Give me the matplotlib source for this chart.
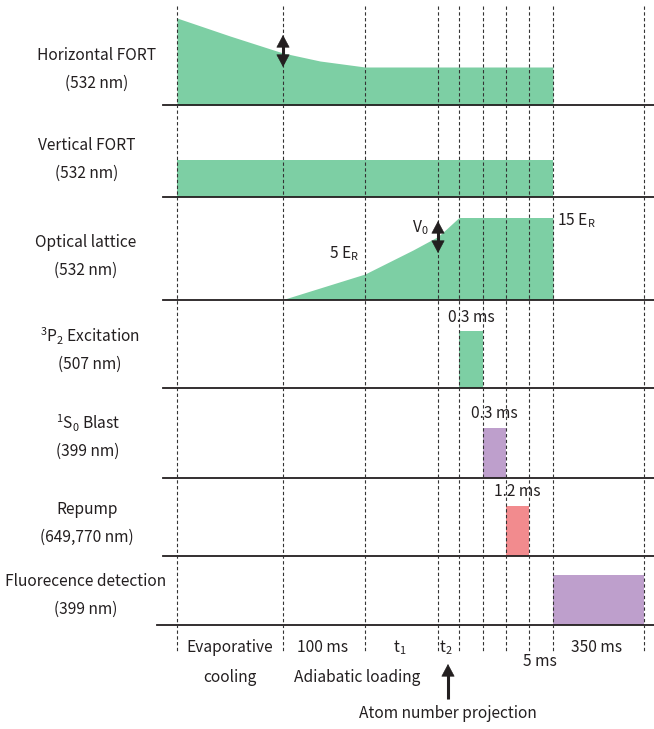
import matplotlib
matplotlib.use("Agg")
import matplotlib.pyplot as plt

plt.rcParams["font.family"] = ["Noto Sans CJK JP", "DejaVu Sans"]

# Schematic time grid (dashed markers) in drawing units
grid_t = [177, 283, 365, 438, 459, 483, 506, 529, 553, 644]

# Row labels and baselines
row_names = ["Horizontal FORT", "Vertical FORT", "Optical lattice",
             r"$\mathregular{^{3}P_{2}}$ Excitation",
             r"$\mathregular{^{1}S_{0}}$ Blast", "Repump",
             "Fluorecence detection"]
row_wavelengths = ["(532 nm)", "(532 nm)", "(532 nm)", "(507 nm)",
                   "(399 nm)", "(649,770 nm)", "(399 nm)"]
row_base = [105, 197, 299.5, 388, 477.5, 555.5, 625]

# Beam intensity profiles (time, amplitude above baseline)
hfort_t = [177, 230, 283, 320, 365, 553]
hfort_v = [87, 69, 52, 44, 38, 38]
vfort_t = [177, 553]
vfort_v = [37, 37]
lattice_t = [283, 365, 390, 413, 438, 447, 459, 553]
lattice_v = [0, 25.5, 38, 49.5, 63, 71, 82, 82]

# Pulses: (start, end, height, row)
pulse_start = [459, 483, 506, 553]
pulse_end = [483, 506, 529, 644]
pulse_height = [57, 50, 50, 50]
pulse_row = [3, 4, 5, 6]
pulse_label = ["0.3 ms", "0.3 ms", "1.2 ms", None]

GREEN = "#7DCFA4"
PURPLE = "#BE9FCC"
RED = "#F28B8E"
TXT = "#231F20"
pulse_color = [GREEN, PURPLE, RED, PURPLE]

fig = plt.figure(figsize=(6.54, 7.29), dpi=100)
ax = fig.add_axes([0, 0, 1, 1])
ax.set_xlim(0, 654)
ax.set_ylim(729, 0)
ax.axis("off")

fs = 11.2

# dashed time markers
for t in grid_t:
    ax.plot([t, t], [6, 652], color="#333333", lw=0.8, ls=(0, (3, 2.2)), zorder=3)

# beam profiles
def profile(ts, vs, row):
    b = row_base[row]
    ax.fill_between(ts, [b - v for v in vs], b, color=GREEN, lw=0, zorder=1)

profile(hfort_t, hfort_v, 0)
profile(vfort_t, vfort_v, 1)
profile(lattice_t, lattice_v, 2)

for s, e, h, r, lab, c in zip(pulse_start, pulse_end, pulse_height,
                              pulse_row, pulse_label, pulse_color):
    b = row_base[r]
    ax.fill_between([s, e], b - h, b, color=c, lw=0, zorder=1)
    if lab:
        ax.text((s + e) / 2, b - h - 14, lab, ha="center", va="center",
                fontsize=fs, color=TXT, zorder=4)

# baselines
for i, b in enumerate(row_base):
    x0 = 157 if i == len(row_base) - 1 else 163
    ax.plot([x0, 654], [b, b], color="#231F20", lw=1.3, zorder=2)

# row labels
label_cx = [97, 87, 86, 90, 88, 87, 86]
label_y1 = [55, 145, 242, 336, 423, 509, 581]
for name, wl, cx, y1 in zip(row_names, row_wavelengths, label_cx, label_y1):
    ax.text(cx, y1, name, ha="center", va="center", fontsize=fs, color=TXT)
    ax.text(cx, y1 + 28, wl, ha="center", va="center", fontsize=fs, color=TXT)


def arrow(x, y_head, y_tail, both=True):
    # shaft drawn as a plain line, heads as thin-edged filled triangles
    ax.plot([x, x], [y_head + 4, y_tail - (4 if both else 0)],
            color="#231F20", lw=2.2, solid_capstyle="butt", zorder=5)
    style = "<|-|>" if both else "-|>"
    ax.annotate("", xy=(x, y_head), xytext=(x, y_tail),
                arrowprops=dict(arrowstyle=style + ",head_length=0.75,head_width=0.4",
                                color="#231F20", lw=0.5, mutation_scale=11,
                                shrinkA=0, shrinkB=0),
                zorder=5)


arrow(283, 35, 67)
arrow(438, 221, 253)

# lattice annotations
ax.text(344, 254, r"5 E$\mathregular{_R}$", ha="center", va="center", fontsize=fs, color=TXT)
ax.text(420, 228, r"V$\mathregular{_0}$", ha="center", va="center", fontsize=fs, color=TXT)
ax.text(576, 221, r"15 E$\mathregular{_R}$", ha="center", va="center", fontsize=fs, color=TXT)

# bottom labels
ax.text(230, 648, "Evaporative", ha="center", va="center", fontsize=fs, color=TXT)
ax.text(230, 677, "cooling", ha="center", va="center", fontsize=fs, color=TXT)
ax.text(323, 648, "100 ms", ha="center", va="center", fontsize=fs, color=TXT)
ax.text(357, 677, "Adiabatic loading", ha="center", va="center", fontsize=fs, color=TXT)
ax.text(400, 648, r"t$\mathregular{_1}$", ha="center", va="center", fontsize=fs, color=TXT)
ax.text(446, 648, r"t$\mathregular{_2}$", ha="center", va="center", fontsize=fs, color=TXT)
ax.text(540, 662, "5 ms", ha="center", va="center", fontsize=fs, color=TXT)
ax.text(597, 647, "350 ms", ha="center", va="center", fontsize=fs, color=TXT)
arrow(448, 664, 699, both=False)
ax.text(448, 714, "Atom number projection", ha="center", va="center",
        fontsize=fs, color=TXT)

fig.savefig("out.png", dpi=100, facecolor="white")
